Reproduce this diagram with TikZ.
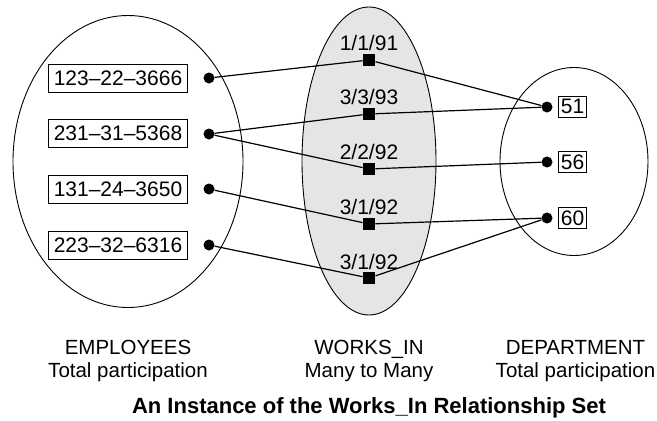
\documentclass[tikz,border=0pt]{standalone}
\usepackage{fontspec}
\setmainfont{Liberation Sans}
\definecolor{relfill}{HTML}{E5E5E5}
\begin{document}
\begin{tikzpicture}[x=1pt,y=-1pt,
  txt/.style={font=\fontsize{21}{23}\selectfont},
  captxt/.style={font=\fontsize{20.5}{23}\selectfont, align=center},
  ent/.style={draw, line width=0.8pt, inner xsep=5pt, inner ysep=0pt, minimum height=28pt, txt},
  dep/.style={draw, line width=0.8pt, inner xsep=2.5pt, inner ysep=0pt, minimum height=21pt, txt},
  dotn/.style={circle, fill, inner sep=0pt, minimum size=11pt},
  reln/.style={fill, inner sep=0pt, minimum size=12.5pt},
  conn/.style={line width=1.2pt},
  setline/.style={line width=0.9pt}]
\useasboundingbox (0,0) rectangle (657,421);
% sets
\draw[setline] (128,161.5) ellipse [x radius=115, y radius=146];
\draw[setline, fill=relfill] (369,161) ellipse [x radius=67, y radius=154];
\draw[setline] (574,161.5) ellipse [x radius=74, y radius=94];
% employees
\node[ent] (e1) at (118,78) {123--22--3666};
\node[ent] (e2) at (118,133.5) {231--31--5368};
\node[ent] (e3) at (118,189.5) {131--24--3650};
\node[ent] (e4) at (118,245.5) {223--32--6316};
\node[dotn] (ed1) at (209,78) {};
\node[dotn] (ed2) at (209,134) {};
\node[dotn] (ed3) at (209,189) {};
\node[dotn] (ed4) at (209,245) {};
% relationships
\node[reln] (r1) at (369,60) {};
\node[reln] (r2) at (369,114) {};
\node[reln] (r3) at (369,169) {};
\node[reln] (r4) at (369,224) {};
\node[reln] (r5) at (369,278) {};
\node[txt] (l1) at (369,43) {1/1/91};
\node[txt] (l2) at (369,97) {3/3/93};
\node[txt] (l3) at (369,152) {2/2/92};
\node[txt] (l4) at (369,207) {3/1/92};
\node[txt] (l5) at (369,262) {3/1/92};
% departments
\node[dotn] (dd1) at (547,107) {};
\node[dotn] (dd2) at (547,162) {};
\node[dotn] (dd3) at (547,218) {};
\node[dep] (d1) at (572.5,106.5) {51};
\node[dep] (d2) at (572.5,162) {56};
\node[dep] (d3) at (572.5,218) {60};
% connectors
\draw[conn] (ed1) -- (r1);
\draw[conn] (ed2) -- (r2);
\draw[conn] (ed2) -- (r3);
\draw[conn] (ed3) -- (r4);
\draw[conn] (ed4) -- (r5);
\draw[conn] (r1) -- (dd1);
\draw[conn] (r2) -- (dd1);
\draw[conn] (r3) -- (dd2);
\draw[conn] (r4) -- (dd3);
\draw[conn] (r5) -- (dd3);
% captions
\node[captxt] (c1) at (128,361) {EMPLOYEES\\Total participation};
\node[captxt] (c2) at (369,361) {WORKS\_IN\\Many to Many};
\node[captxt] (c3) at (575.5,361) {DEPARTMENT\\Total participation};
\node[font=\bfseries\fontsize{22}{24}\selectfont] (title) at (369,408) {An Instance of the Works\_In Relationship Set};
\end{tikzpicture}
\end{document}
